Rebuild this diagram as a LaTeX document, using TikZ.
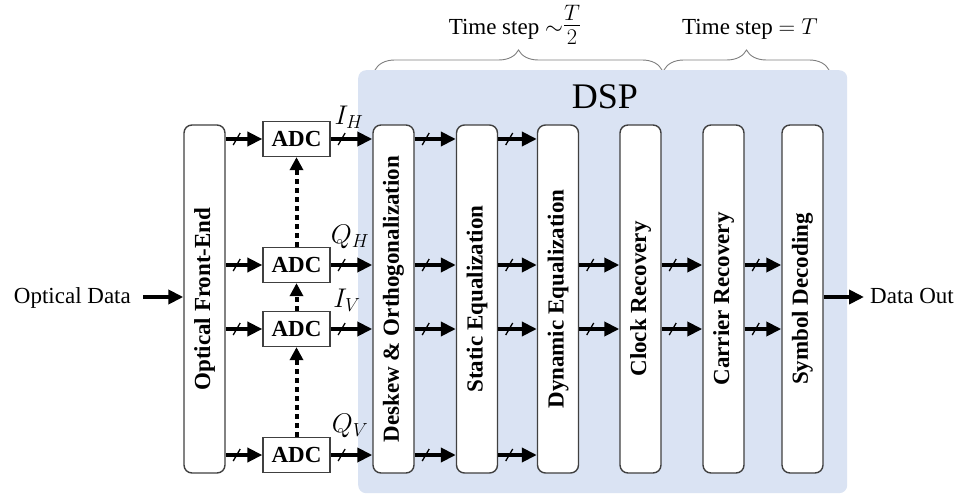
\RequirePackage{fix-cm}
\documentclass[tikz,border=0pt]{standalone}
\usepackage{fontspec}
\setmainfont{Liberation Serif}
\usetikzlibrary{arrows.meta,decorations.markings,decorations.pathreplacing}
\definecolor{dspbg}{HTML}{DAE3F3}
\definecolor{boxline}{HTML}{404040}
\definecolor{bracecol}{HTML}{7F7F7F}

\begin{document}
\begin{tikzpicture}[x=1pt,y=-1pt,
  blk/.style={draw=boxline, line width=1.4pt, fill=white, rounded corners=8pt,
    minimum width=41pt, minimum height=348pt, inner sep=0pt,
    font=\fontsize{23}{23}\selectfont\bfseries},
  adc/.style={draw=boxline, line width=1.3pt, fill=white,
    minimum width=67pt, minimum height=35pt, inner sep=0pt,
    font=\fontsize{23}{23}\selectfont\bfseries},
  sig/.style={line width=4.2pt, -{Triangle[length=15pt,width=14pt]}},
  bus/.style={sig, postaction={decorate, decoration={markings,
    mark=at position 11pt with {\draw[line width=1.3pt,-] (-3.5pt,-6pt) -- (3.5pt,6pt);}}}},
  sync/.style={line width=4pt, dash pattern=on 4.5pt off 4.5pt,
    -{Triangle[length=13pt,width=13pt]}},
  lbl/.style={font=\fontsize{23}{23}\selectfont, inner sep=0pt},
  mlbl/.style={font=\fontsize{27}{27}\selectfont, inner sep=0pt},
  brc/.style={draw=bracecol, line width=0.9pt, decorate,
    decoration={brace, amplitude=20pt}}
]
\useasboundingbox (0,0) rectangle (965,494);

% time-step braces above the DSP section
\draw[brc] (375,70) -- (662,70);
\draw[brc] (664,70) -- (829,70);
\node[lbl, anchor=base] (ts1) at (515,35)
  {Time step $\sim$\raisebox{1.5pt}{\fontsize{32}{32}\selectfont$\frac{T}{2}$}};
\node[lbl, anchor=base] (ts2) at (750,35) {Time step $=T$};

% DSP background
\node[fill=dspbg, rounded corners=8pt, minimum width=489pt, minimum height=423pt,
  inner sep=0pt, anchor=north west] (dsp) at (358,70) {};
\node[font=\fontsize{36}{36}\selectfont, inner sep=0pt, anchor=base] (dsplbl) at (605,109) {DSP};

% row coordinates
\coordinate (r1) at (0,139);
\coordinate (r2) at (0,265);
\coordinate (r3) at (0,329);
\coordinate (r4) at (0,455);
\coordinate (rm) at (0,297);

% processing blocks
\node[blk] (ofe)  at (204.5,299) {\rotatebox{90}{Optical Front-End}};
\node[blk] (desk) at (393.5,299) {\rotatebox{90}{Deskew \& Orthogonalization}};
\node[blk] (stat) at (477,299)   {\rotatebox{90}{Static Equalization}};
\node[blk] (dyn)  at (558,299)   {\rotatebox{90}{Dynamic Equalization}};
\node[blk] (clk)  at (640.5,299) {\rotatebox{90}{Clock Recovery}};
\node[blk] (car)  at (723.5,299) {\rotatebox{90}{Carrier Recovery}};
\node[blk] (sym)  at (802.5,299) {\rotatebox{90}{Symbol Decoding}};

% converters
\node[adc] (adc1) at (296.5,139) {ADC};
\node[adc] (adc2) at (296.5,265) {ADC};
\node[adc] (adc3) at (296.5,329) {ADC};
\node[adc] (adc4) at (296.5,455) {ADC};

% clock synchronisation between converters
\draw[sync] (adc2.north) -- (adc1.south);
\draw[sync] (adc3.north) -- (adc2.south);
\draw[sync] (adc4.north) -- (adc3.south);

% converter inputs and outputs
\foreach \a in {adc1,adc2,adc3,adc4}{
  \draw[bus] (ofe.east |- \a.west) -- (\a.west);
  \draw[bus] (\a.east) -- (desk.west |- \a.east);
}

% signal labels
\node[mlbl] (lih) at (349,117) {$I_H$};
\node[mlbl] (lqh) at (350,237) {$Q_H$};
\node[mlbl] (liv) at (347,300) {$I_V$};
\node[mlbl] (lqv) at (350,426) {$Q_V$};

% DSP chain
\foreach \r in {r1,r2,r3,r4}{
  \draw[bus] (desk.east |- \r) -- (stat.west |- \r);
  \draw[bus] (stat.east |- \r) -- (dyn.west |- \r);
}
\foreach \r in {r2,r3}{
  \draw[bus] (dyn.east |- \r) -- (clk.west |- \r);
  \draw[bus] (clk.east |- \r) -- (car.west |- \r);
  \draw[bus] (car.east |- \r) -- (sym.west |- \r);
}

% input and output
\node[lbl, anchor=base east] (od) at (131,303) {Optical Data};
\draw[sig, shorten <=12pt] (od.east |- rm) -- (ofe.west |- rm);
\node[lbl, anchor=base west] (dout) at (870,303) {Data Out};
\draw[sig, shorten >=6pt] (sym.east |- rm) -- (dout.west |- rm);
\end{tikzpicture}
\end{document}
